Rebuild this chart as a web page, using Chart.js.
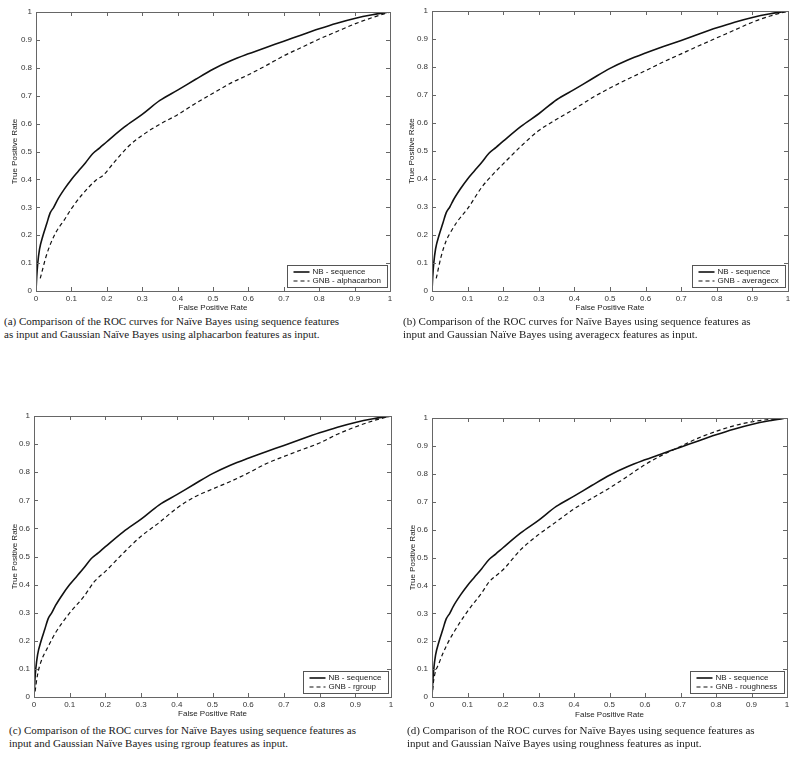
<!DOCTYPE html>
<html>
<head>
<meta charset="utf-8">
<script src="https://cdn.jsdelivr.net/npm/chart.js@4.4.0/dist/chart.umd.min.js"></script>
<style>
body { margin: 0; background: #fff; }
#page { position: relative; width: 800px; height: 759px; overflow: hidden; }
.box { position: absolute; }
.cap { position: absolute; font-family: "Liberation Serif", "Times New Roman", serif; font-size: 11px; line-height: 13px; color: #1a1a1a; white-space: nowrap; }
</style>
</head>
<body>
<div id="page">
	<div class="box" style="left:0px;top:0px;"><canvas id="chartA" width="400" height="315"></canvas></div>
	<div class="box" style="left:396px;top:0px;"><canvas id="chartB" width="400" height="315"></canvas></div>
	<div class="box" style="left:0px;top:404px;"><canvas id="chartC" width="400" height="317"></canvas></div>
	<div class="box" style="left:396px;top:404px;"><canvas id="chartD" width="400" height="317"></canvas></div>

	<div class="cap" style="left:4px;top:315px;">(a) Comparison of the ROC curves for Naïve Bayes using sequence features<br>as input and Gaussian Naïve Bayes using alphacarbon features as input.</div>
	<div class="cap" style="left:403px;top:315px;">(b) Comparison of the ROC curves for Naïve Bayes using sequence features as<br>input and Gaussian Naïve Bayes using averagecx features as input.</div>
	<div class="cap" style="left:9px;top:724px;">(c) Comparison of the ROC curves for Naïve Bayes using sequence features as<br>input and Gaussian Naïve Bayes using rgroup features as input.</div>
	<div class="cap" style="left:407px;top:724px;">(d) Comparison of the ROC curves for Naïve Bayes using sequence features as<br>input and Gaussian Naïve Bayes using roughness features as input.</div>
</div>
<script>
// tick labels on both axes
var tickValues = [0, 0.1, 0.2, 0.3, 0.4, 0.5, 0.6, 0.7, 0.8, 0.9, 1];

// NB - sequence (same curve in every panel)
var nbFpr = [0, 0.002, 0.005, 0.01, 0.02, 0.03, 0.04, 0.05, 0.06, 0.08, 0.1, 0.12, 0.14, 0.16, 0.18, 0.2, 0.25, 0.3, 0.35, 0.4, 0.45, 0.5, 0.55, 0.6, 0.65, 0.7, 0.75, 0.8, 0.85, 0.9, 0.95, 1];
var nbTpr = [0, 0.05, 0.1, 0.15, 0.2, 0.24, 0.28, 0.3, 0.325, 0.365, 0.4, 0.43, 0.46, 0.492, 0.513, 0.535, 0.588, 0.633, 0.683, 0.72, 0.758, 0.795, 0.825, 0.85, 0.873, 0.895, 0.918, 0.94, 0.96, 0.977, 0.99, 1];

// GNB - alphacarbon
var alphaFpr = [0.012, 0.03, 0.054, 0.08, 0.1, 0.13, 0.17, 0.19, 0.22, 0.26, 0.3, 0.35, 0.4, 0.45, 0.5, 0.55, 0.6, 0.65, 0.7, 0.75, 0.8, 0.85, 0.9, 0.95, 1];
var alphaTpr = [0.045, 0.13, 0.205, 0.255, 0.295, 0.345, 0.398, 0.415, 0.46, 0.517, 0.558, 0.598, 0.632, 0.672, 0.709, 0.745, 0.775, 0.808, 0.843, 0.873, 0.903, 0.93, 0.957, 0.98, 1];

// GNB - averagecx
var avgFpr = [0.012, 0.025, 0.04, 0.05, 0.07, 0.1, 0.14, 0.17, 0.2, 0.25, 0.3, 0.35, 0.4, 0.45, 0.5, 0.55, 0.6, 0.65, 0.7, 0.75, 0.8, 0.85, 0.9, 0.95, 1];
var avgTpr = [0.045, 0.12, 0.18, 0.205, 0.246, 0.294, 0.371, 0.415, 0.454, 0.517, 0.573, 0.613, 0.65, 0.69, 0.725, 0.757, 0.787, 0.818, 0.847, 0.876, 0.904, 0.932, 0.96, 0.982, 1];

// GNB - rgroup
var rgFpr = [0.003, 0.01, 0.02, 0.04, 0.06, 0.1, 0.14, 0.17, 0.2, 0.25, 0.3, 0.35, 0.4, 0.45, 0.5, 0.55, 0.6, 0.65, 0.7, 0.75, 0.8, 0.85, 0.9, 0.95, 1];
var rgTpr = [0.02, 0.08, 0.127, 0.18, 0.228, 0.299, 0.358, 0.412, 0.447, 0.512, 0.572, 0.62, 0.672, 0.712, 0.74, 0.767, 0.797, 0.83, 0.856, 0.88, 0.904, 0.935, 0.961, 0.983, 1];

// GNB - roughness
var roughFpr = [0, 0.005, 0.02, 0.04, 0.06, 0.1, 0.14, 0.16, 0.2, 0.25, 0.3, 0.35, 0.4, 0.45, 0.5, 0.55, 0.6, 0.65, 0.7, 0.75, 0.8, 0.85, 0.9, 0.95, 1];
var roughTpr = [0, 0.062, 0.122, 0.182, 0.229, 0.307, 0.373, 0.411, 0.456, 0.528, 0.582, 0.628, 0.674, 0.712, 0.749, 0.79, 0.833, 0.868, 0.898, 0.928, 0.952, 0.972, 0.986, 0.995, 1];

function toPoints(xs, ys) {
	var pts = [];
	for (var i in xs) {
		pts.push({x: xs[i], y: ys[i]});
	}
	return pts;
}

var axisFont = { family: 'Liberation Sans, Arial, sans-serif', size: 8 };

// MATLAB style box, inward ticks and legend inside the plot
var matlabBox = {
	id: 'matlabBox',
	afterDraw: function(chart) {
		var ctx = chart.ctx;
		var a = chart.chartArea;
		var sx = chart.scales.x, sy = chart.scales.y;
		ctx.save();
		ctx.strokeStyle = '#666';
		ctx.lineWidth = 1;
		ctx.strokeRect(Math.round(a.left) + 0.5, Math.round(a.top) + 0.5, Math.round(a.right - a.left), Math.round(a.bottom - a.top));
		ctx.beginPath();
		for (var i in tickValues) {
			var px = Math.round(sx.getPixelForValue(tickValues[i])) + 0.5;
			ctx.moveTo(px, a.bottom); ctx.lineTo(px, a.bottom - 4);
			ctx.moveTo(px, a.top); ctx.lineTo(px, a.top + 4);
			var py = Math.round(sy.getPixelForValue(tickValues[i])) + 0.5;
			ctx.moveTo(a.left, py); ctx.lineTo(a.left + 4, py);
			ctx.moveTo(a.right, py); ctx.lineTo(a.right - 4, py);
		}
		ctx.stroke();

		// legend
		var sets = chart.data.datasets;
		ctx.font = '8px "Liberation Sans", Arial, sans-serif';
		var tw = 0;
		for (var j in sets) {
			tw = Math.max(tw, ctx.measureText(sets[j].label).width);
		}
		var bw = Math.round(tw + 32), bh = 22;
		var bx = Math.round(a.right - 3 - bw) + 0.5, by = Math.round(a.bottom - 4 - bh) + 0.5;
		ctx.fillStyle = '#fff';
		ctx.fillRect(bx, by, bw, bh);
		ctx.strokeStyle = '#555';
		ctx.strokeRect(bx, by, bw, bh);
		for (var k = 0; k < sets.length; k++) {
			var ly = by + 6.5 + k * 9;
			ctx.strokeStyle = '#111';
			ctx.lineWidth = sets[k].borderWidth;
			ctx.setLineDash(sets[k].borderDash || []);
			ctx.beginPath();
			ctx.moveTo(bx + 6, ly); ctx.lineTo(bx + 22, ly);
			ctx.stroke();
			ctx.setLineDash([]);
			ctx.fillStyle = '#222';
			ctx.textBaseline = 'middle';
			ctx.fillText(sets[k].label, bx + 25, ly);
		}
		ctx.restore();
	}
};

function makeChart(id, gnbLabel, gnbX, gnbY, pad, yTitlePad, xTitlePad, yWidth, xHeight) {
	var ctx = document.getElementById(id);
	return new Chart(ctx, {
		type: 'line',
		data: {
			datasets: [
				{
					label: 'NB - sequence',
					data: toPoints(nbFpr, nbTpr),
					borderColor: '#111',
					borderWidth: 1.6,
					pointRadius: 0,
					cubicInterpolationMode: 'monotone',
					fill: false
				},
				{
					label: gnbLabel,
					data: toPoints(gnbX, gnbY),
					borderColor: '#111',
					borderWidth: 1.2,
					borderDash: [4, 3],
					pointRadius: 0,
					cubicInterpolationMode: 'monotone',
					fill: false
				}
			]
		},
		options: {
			responsive: false,
			animation: false,
			layout: { padding: pad },
			plugins: { legend: { display: false }, tooltip: { enabled: false } },
			scales: {
				x: {
					type: 'linear', min: 0, max: 1,
					grid: { display: false, drawTicks: false },
					border: { display: false },
					afterBuildTicks: function(s) { s.ticks = tickValues.map(function(v) { return {value: v}; }); },
					afterFit: function(s) { s.height = xHeight; },
					ticks: {
						padding: 3, color: '#333', font: axisFont, maxRotation: 0, autoSkip: false,
						callback: function(v) { return String(Math.round(v * 10) / 10); }
					},
					title: { display: true, text: 'False Positive Rate', color: '#222', font: axisFont, padding: {top: 0, bottom: xTitlePad} }
				},
				y: {
					type: 'linear', min: 0, max: 1,
					grid: { display: false, drawTicks: false },
					border: { display: false },
					afterBuildTicks: function(s) { s.ticks = tickValues.map(function(v) { return {value: v}; }); },
					afterFit: function(s) { s.width = yWidth; },
					ticks: {
						padding: 4, color: '#333', font: axisFont, autoSkip: false,
						callback: function(v) { return String(Math.round(v * 10) / 10); }
					},
					title: { display: true, text: 'True Positive Rate', color: '#222', font: axisFont, padding: {top: yTitlePad, bottom: 0} }
				}
			}
		},
		plugins: [matlabBox]
	});
}

makeChart('chartA', 'GNB - alphacarbon', alphaFpr, alphaTpr, {top: 12, right: 10, left: 0, bottom: 0}, 10, 2, 36, 24);
makeChart('chartB', 'GNB - averagecx', avgFpr, avgTpr, {top: 11, right: 8, left: 0, bottom: 0}, 11, 2, 36, 24);
makeChart('chartC', 'GNB - rgroup', rgFpr, rgTpr, {top: 12, right: 9, left: 0, bottom: 0}, 10, 2, 34, 24);
makeChart('chartD', 'GNB - roughness', roughFpr, roughTpr, {top: 14, right: 9, left: 0, bottom: 0}, 12, 1, 36, 24);
</script>
</body>
</html>
